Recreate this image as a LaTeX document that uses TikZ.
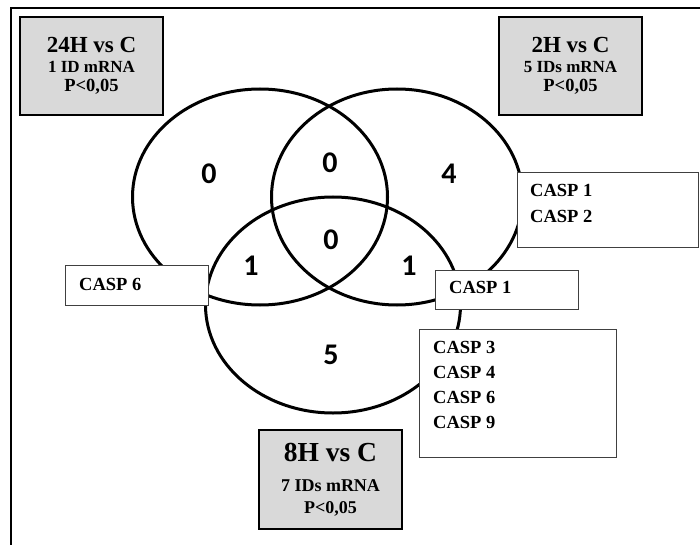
\documentclass[tikz,border=0pt]{standalone}
\usepackage{fontspec}
\setmainfont{Liberation Serif}
\newfontfamily\numfont{Carlito}
\definecolor{boxgray}{RGB}{217,217,217}
\begin{document}
\begin{tikzpicture}[x=1pt,y=-1pt,
  venn/.style={line width=3pt},
  idbox/.style={draw,line width=2.3pt,fill=boxgray,minimum width=143pt,minimum height=98pt,inner sep=0pt,align=center,font=\bfseries\fontsize{17}{19}\selectfont},
  listbox/.style={draw=black!75,line width=1.3pt,fill=white,inner sep=0pt,anchor=north west},
  listtxt/.style={inner sep=0pt,anchor=north west,align=left,font=\bfseries\fontsize{18.5}{26}\selectfont},
  num/.style={font=\numfont\bfseries\fontsize{30}{30}\selectfont}]
\useasboundingbox (0,0) rectangle (700,545);
\draw[line width=2.5pt] (11,545)--(11,8)--(700,8);
\coordinate (ca) at (260,197);
\coordinate (cb) at (397,197);
\coordinate (cc) at (333,305);
\draw[venn] (ca) ellipse (127.5 and 108);
\draw[venn] (cb) ellipse (125.5 and 108);
\draw[venn] (cc) ellipse (127.5 and 108);
\node[num] (n1) at (209,174) {0};
\node[num] (n2) at (330,163) {0};
\node[num] (n3) at (449,174) {4};
\node[num] (n4) at (331,240) {0};
\node[num] (n5) at (251,266) {1};
\node[num] (n6) at (409,266) {1};
\node[num] (n7) at (331,355) {5};
\node[idbox] (t24) at (91.5,66) {{\fontsize{23}{19}\selectfont 24H vs C}\\[1pt]1 ID mRNA\\{\fontsize{18.5}{19}\selectfont P<0,05}};
\node[idbox] (t2) at (570.5,66) {{\fontsize{23}{19}\selectfont 2H vs C}\\[1pt]5 IDs mRNA\\{\fontsize{18.5}{19}\selectfont P<0,05}};
\node[idbox,minimum height=99pt,font=\bfseries\fontsize{18}{19}\selectfont] (t8) at (330.5,479.5) {{\fontsize{27.5}{19}\selectfont 8H vs C}\\[11pt]7 IDs mRNA\\[3pt]P<0,05};
\node[listbox,minimum width=181pt,minimum height=75pt] (l2) at (517,172) {};
\node[listtxt] (k2) at ([shift={(13,12)}]l2.north west) {CASP 1\\CASP 2};
\node[listbox,minimum width=143pt,minimum height=40pt] (l6) at (65,265) {};
\node[listtxt] (k6) at ([shift={(14,12.8)}]l6.north west) {CASP 6};
\node[listbox,minimum width=143pt,minimum height=39pt] (l1) at (435,270) {};
\node[listtxt] (k1) at ([shift={(14,10.8)}]l1.north west) {CASP 1};
\node[listbox,minimum width=197pt,minimum height=128pt] (l8) at (419,329) {};
\node[listtxt,font=\bfseries\fontsize{18.5}{25}\selectfont] (k8) at ([shift={(14,11.8)}]l8.north west) {CASP 3\\CASP 4\\CASP 6\\CASP 9};
\end{tikzpicture}
\end{document}
